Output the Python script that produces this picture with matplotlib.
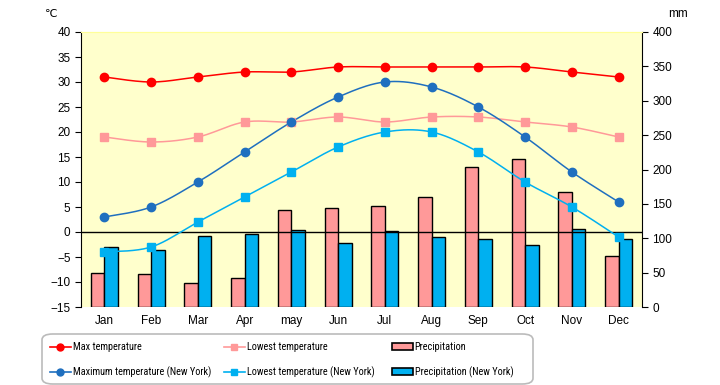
import numpy as np
import matplotlib
matplotlib.use("Agg")
import matplotlib.pyplot as plt
from matplotlib.lines import Line2D
from matplotlib.patches import Patch, FancyBboxPatch
from matplotlib import font_manager

names = sorted({f.name for f in font_manager.fontManager.ttflist})
narrow = None
for cand in ["Liberation Sans Narrow", "DejaVu Sans Condensed", "Roboto Condensed", "Open Sans Condensed"]:
    if cand in names:
        narrow = cand
        break

months = ["Jan", "Feb", "Mar", "Apr", "may", "Jun", "Jul", "Aug", "Sep", "Oct", "Nov", "Dec"]
max_temp = [31, 30, 31, 32, 32, 33, 33, 33, 33, 33, 32, 31]
low_temp = [19, 18, 19, 22, 22, 23, 22, 23, 23, 22, 21, 19]
ny_max_temp = [3, 5, 10, 16, 22, 27, 30, 29, 25, 19, 12, 6]
ny_low_temp = [-4, -3, 2, 7, 12, 17, 20, 20, 16, 10, 5, -1]
precip = [49, 48, 35, 42, 141, 144, 147, 160, 203, 216, 167, 74]
ny_precip = [87, 83, 103, 106, 112, 93, 111, 102, 99, 90, 113, 99]

C_MAX = "#FF0000"
C_LOW = "#FF9999"
C_NYMAX = "#1F6FBF"
C_NYLOW = "#00B0F0"
C_BG = "#FFFFCC"

plt.rcParams['font.family'] = ['Liberation Sans', 'DejaVu Sans']

def smooth(x, y, n=20):
    # Catmull-Rom style smoothing for rendering only
    x = np.asarray(x, float); y = np.asarray(y, float)
    xs, ys = [], []
    for i in range(len(x) - 1):
        p0 = (x[i-1] if i > 0 else x[i], y[i-1] if i > 0 else y[i])
        p1 = (x[i], y[i]); p2 = (x[i+1], y[i+1])
        p3 = (x[i+2], y[i+2]) if i + 2 < len(x) else p2
        t = np.linspace(0, 1, n, endpoint=(i == len(x) - 2))
        t = t[:, None]
        P0, P1, P2, P3 = map(np.array, (p0, p1, p2, p3))
        b1 = P1 + (P2 - P0) / 6
        b2 = P2 - (P3 - P1) / 6
        pts = ((1-t)**3)*P1 + 3*((1-t)**2)*t*b1 + 3*(1-t)*t*t*b2 + t**3*P2
        xs.extend(pts[:, 0]); ys.extend(pts[:, 1])
    return xs, ys

fig = plt.figure(figsize=(7.2, 3.85), dpi=100)
ax = fig.add_axes([81/720, 1-307/385, (642-81)/720, (307-32)/385])
ax2 = ax.twinx()

x = np.arange(len(months))
w = 0.29
ax2.bar(x - w/2, precip, width=w, color=C_LOW, edgecolor="black", linewidth=1, zorder=2)
ax2.bar(x + w/2, ny_precip, width=w, color=C_NYLOW, edgecolor="black", linewidth=1, zorder=2)
ax2.set_ylim(0, 400)
ax2.set_yticks(np.arange(0, 401, 50))

ax.set_zorder(ax2.get_zorder() + 1)
ax.patch.set_visible(False)
ax2.patch.set_visible(True)
ax2.patch.set_facecolor(C_BG)

for data, col, mk in [(max_temp, C_MAX, 'o'), (low_temp, C_LOW, 's'),
                      (ny_max_temp, C_NYMAX, 'o'), (ny_low_temp, C_NYLOW, 's')]:
    sx, sy = smooth(x, data)
    ax.plot(sx, sy, color=col, linewidth=1.1, zorder=3)
    ax.plot(x, data, linestyle='none', marker=mk, color=col, markersize=6, zorder=4)

ax.axhline(0, color="black", linewidth=1, zorder=2)
ax.set_ylim(-15, 40)
ax.set_yticks(np.arange(-15, 41, 5))
ax.set_xlim(-0.5, 11.5)
ax.set_xticks(x)
ax.set_xticklabels(months)
ax.tick_params(axis='x', length=0, pad=6, labelsize=8.5)
ax.tick_params(axis='y', length=4, labelsize=8.5, direction='out')
ax2.tick_params(axis='y', length=4, labelsize=8.5, direction='out')

for a in (ax, ax2):
    a.spines['top'].set_color("#FFFF99")
    a.spines['bottom'].set_visible(False)
ax.spines['right'].set_visible(False)
ax2.spines['left'].set_visible(False)
ax2.spines['right'].set_color("black")
ax.spines['left'].set_color("black")

fig.text(45/720, 1-14/385, "℃", fontsize=8, ha='left', va='center')
fig.text(668/720, 1-14/385, "mm", fontsize=8.5, ha='left', va='center')

# legend frame
frame = FancyBboxPatch((42/720, 1 - 384/385), (533-42)/720, (384-334)/385,
                       boxstyle="round,pad=0,rounding_size=0.015",
                       transform=fig.transFigure, facecolor="white",
                       edgecolor="#BBBBBB", linewidth=1.2, zorder=0)
fig.patches.append(frame)

if narrow:
    legfont = {'family': [narrow, 'Liberation Sans'], 'size': 7.4}
else:
    legfont = {'family': ['Liberation Sans'], 'size': 6.5}

cols = [
    (50, [Line2D([], [], color=C_MAX, marker='o', markersize=5, linewidth=1.2),
          Line2D([], [], color=C_NYMAX, marker='o', markersize=5, linewidth=1.2)],
     ["Max temperature", "Maximum temperature (New York)"]),
    (224, [Line2D([], [], color=C_LOW, marker='s', markersize=5, linewidth=1.2),
           Line2D([], [], color=C_NYLOW, marker='s', markersize=5, linewidth=1.2)],
     ["Lowest temperature", "Lowest temperature (New York)"]),
    (392, [Patch(facecolor=C_LOW, edgecolor="black", linewidth=1.2),
           Patch(facecolor=C_NYLOW, edgecolor="black", linewidth=1.2)],
     ["Precipitation", "Precipitation (New York)"]),
]
for xpos, hs, ls in cols:
    lg = fig.legend(hs, ls, loc='upper left', bbox_to_anchor=(xpos/720, 1-342/385),
                    frameon=False, prop=legfont, handlelength=2.0, handletextpad=0.2,
                    borderpad=0, borderaxespad=0, labelspacing=1.4,
                    handleheight=0.6)

fig.savefig("out.png", dpi=100)
